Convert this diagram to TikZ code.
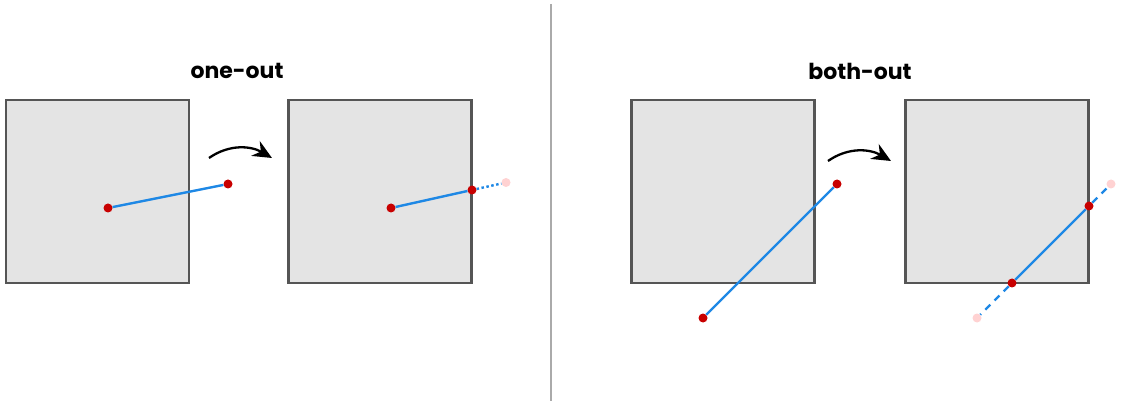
\documentclass[tikz,border=0pt]{standalone}
\usepackage{fontspec}
\newfontfamily\titlefont{Poppins}
\usetikzlibrary{arrows.meta}
\definecolor{boxfill}{HTML}{E4E4E4}
\definecolor{boxline}{HTML}{555555}
\definecolor{segblue}{HTML}{1E88E5}
\definecolor{ptred}{HTML}{C80000}
\definecolor{ghostpink}{HTML}{FFD2D2}
\definecolor{divgrey}{HTML}{AAAAAA}

\begin{document}
\begin{tikzpicture}[x=1pt, y=-1pt,
  frame/.style={draw=boxline, fill=boxfill, line width=2.2pt, minimum width=183pt, minimum height=183pt, inner sep=0pt},
  pt/.style={circle, fill=ptred, minimum size=9pt, inner sep=0pt},
  ghost/.style={circle, fill=ghostpink, minimum size=9pt, inner sep=0pt},
  seg/.style={draw=segblue, line width=2.4pt},
  flow/.style={line width=2.3pt, -{Stealth[length=19pt, width=17pt]}},
  title/.style={font=\titlefont\bfseries\fontsize{22}{26}\selectfont}]
\useasboundingbox (0,0) rectangle (1124,403);
% divider
\draw[divgrey, line width=1.6pt] (551,4) -- (551,401);
% titles
\node[title] (t1) at (237,71) {one-out};
\node[title] (t2) at (860,71) {both-out};
% boxes
\node[frame] (box1) at (97.5,191.5) {};
\node[frame] (box2) at (380,191.5) {};
\node[frame] (box3) at (723,191.5) {};
\node[frame] (box4) at (997,191.5) {};
% one-out points
\node[pt] (in1) at (108,208) {};
\node[pt] (out1) at (228,184) {};
\node[pt] (in2) at (391,208) {};
\node[pt] (hit2) at (472,190) {};
\node[ghost] (ghost2) at (506,182.5) {};
% both-out points
\node[pt] (a3) at (703,318) {};
\node[pt] (b3) at (837,184) {};
\node[pt] (hit4a) at (1012,283) {};
\node[pt] (hit4b) at (1089,206) {};
\node[ghost] (ghost4a) at (977,318) {};
\node[ghost] (ghost4b) at (1111,184) {};
% segments
\draw[seg] (in1) -- (out1);
\draw[seg] (in2) -- (hit2);
\draw[seg, dash pattern=on 2.5pt off 2.5pt] (hit2) -- (ghost2);
\draw[seg] (a3) -- (b3);
\draw[seg] (hit4a) -- (hit4b);
\draw[seg, dash pattern=on 7pt off 6pt] (hit4b) -- (ghost4b);
\draw[seg, dash pattern=on 7pt off 6pt] (hit4a) -- (ghost4a);
% arrows
\coordinate (s1) at (209,158);
\coordinate (e1) at (272,158);
\coordinate (s2) at (828,161);
\coordinate (e2) at (891,161);
\draw[flow] (s1) to[out=35, in=150] (e1);
\draw[flow] (s2) to[out=35, in=150] (e2);
\end{tikzpicture}
\end{document}
